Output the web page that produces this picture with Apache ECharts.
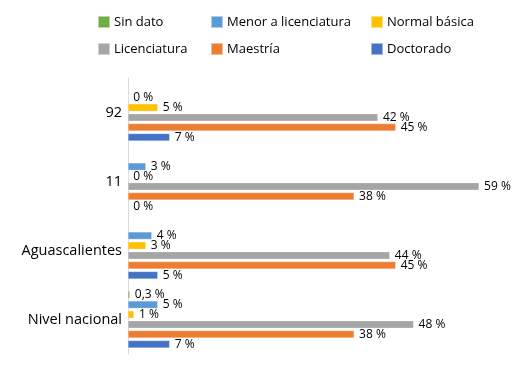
<!DOCTYPE html>
<html><head><meta charset="utf-8">
<script src="https://cdn.jsdelivr.net/npm/echarts@6/dist/echarts.min.js"></script>
<style>html,body{margin:0;padding:0;background:#fff}#c{width:524px;height:366px}</style>
</head><body><div id="c"></div>
<script>
const categories = ['Nivel nacional', 'Aguascalientes', '11', '92'];
const seriesNames = ['Sin dato', 'Menor a licenciatura', 'Normal básica', 'Licenciatura', 'Maestría', 'Doctorado'];
const sinDato = [0.3, null, null, null];
const menorLic = [5, 4, 3, 0];
const normalBasica = [1, 3, 0, 5];
const licenciatura = [48, 44, 59, 42];
const maestria = [38, 45, 38, 45];
const doctorado = [7, 5, 0, 7];
const colors = ['#70AD47', '#5B9BD5', '#FFC000', '#A5A5A5', '#ED7D31', '#4472C4'];
const allData = [sinDato, menorLic, normalBasica, licenciatura, maestria, doctorado];

const font = 'Open Sans';
function fmt(v) { return String(v).replace('.', ',') + ' %'; }

const series = seriesNames.map((n, i) => ({
  name: n, type: 'bar', data: allData[i],
  barWidth: 7.5, barGap: '32%',
  itemStyle: { color: colors[i], borderColor: 'rgba(255,255,255,0.5)', borderWidth: 0.5 },
  label: { show: true, position: 'right', distance: 5, color: '#000', fontSize: 12, fontFamily: font,
    formatter: p => (p.value == null ? '' : fmt(p.value)) },
  animation: false
}));

const legendCols = [[0, 3, 97], [1, 4, 210], [2, 5, 370]];
const legends = legendCols.map(c => ({
  data: [seriesNames[c[0]], seriesNames[c[1]]], orient: 'vertical', left: c[2], top: 15, padding: 0,
  itemWidth: 12, itemHeight: 12, itemGap: 13, icon: 'rect',
  textStyle: { fontFamily: font, fontSize: 13, color: '#000', padding: [0, 0, 0, -1] }
}));

const chart = echarts.init(document.getElementById('c'), null, { renderer: 'canvas' });
chart.setOption({
  animation: false,
  color: colors,
  legend: legends,
  grid: { left: 128, right: 39, top: 78, bottom: 12, containLabel: false },
  xAxis: { type: 'value', min: 0, max: 60, show: false },
  yAxis: { type: 'category', data: categories,
    axisLine: { show: true, lineStyle: { color: '#d9d9d9', width: 1 } },
    axisTick: { show: false },
    axisLabel: { fontFamily: font, fontSize: 14.5, color: '#000', margin: 6 } },
  series: series
});
</script></body></html>
